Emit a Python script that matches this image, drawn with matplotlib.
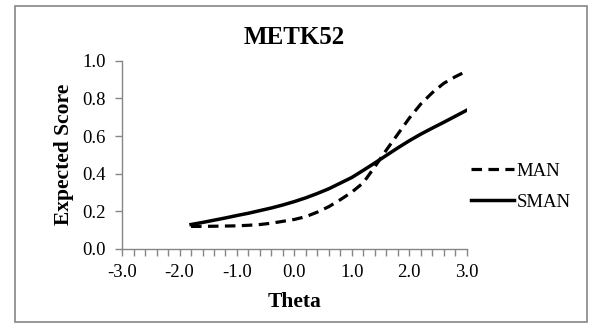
import numpy as np
import matplotlib
matplotlib.use("Agg")
import matplotlib.pyplot as plt
from matplotlib.patches import Rectangle
from matplotlib.ticker import MultipleLocator

# Values
theta = [-1.8, -1.6, -1.4, -1.2, -1.0, -0.8, -0.6, -0.4, -0.2, 0.0, 0.2, 0.4,
         0.6, 0.8, 1.0, 1.2, 1.4, 1.6, 1.8, 2.0, 2.2, 2.4, 2.6, 2.8, 3.0]
man = [0.120, 0.120, 0.121, 0.122, 0.123, 0.126, 0.130, 0.137, 0.147, 0.157,
       0.172, 0.196, 0.225, 0.262, 0.302, 0.352, 0.437, 0.525, 0.610, 0.695,
       0.770, 0.830, 0.880, 0.915, 0.945]
sman = [0.130, 0.141, 0.153, 0.165, 0.178, 0.190, 0.204, 0.218, 0.234, 0.252,
        0.272, 0.295, 0.320, 0.350, 0.380, 0.418, 0.457, 0.497, 0.537, 0.575,
        0.610, 0.642, 0.673, 0.705, 0.737]

x_ticks = [-3.0, -2.0, -1.0, 0.0, 1.0, 2.0, 3.0]
y_ticks = [0.0, 0.2, 0.4, 0.6, 0.8, 1.0]

plt.rcParams['font.family'] = ['Liberation Serif', 'DejaVu Serif']
grey = '#868686'

fig = plt.figure(figsize=(5.9, 3.24), dpi=100)
ax = fig.add_axes([0.207, 0.2315, 0.584, 0.581])

ax.plot(theta, man, color='black', linewidth=2.3, linestyle=(0, (3.3, 2.0)), label='MAN')
ax.plot(theta, sman, color='black', linewidth=2.5, label='SMAN')

ax.set_xlim(-3.0, 3.0)
ax.set_ylim(0.0, 1.0)
ax.set_xticks(x_ticks)
ax.set_xticklabels([f"{v:.1f}" for v in x_ticks])
ax.xaxis.set_minor_locator(MultipleLocator(0.2))
ax.set_yticks(y_ticks)
ax.set_yticklabels([f"{v:.1f}" for v in y_ticks])

for side in ['top', 'right']:
    ax.spines[side].set_visible(False)
for side in ['left', 'bottom']:
    ax.spines[side].set_color(grey)
    ax.spines[side].set_linewidth(1.0)

ax.tick_params(axis='both', which='both', direction='out', color=grey, width=1.0,
               length=5, labelsize=13.5)
ax.tick_params(axis='y', pad=7)
ax.tick_params(axis='x', pad=6)

ax.set_title("METK52", fontsize=18, fontweight='bold', pad=12)
ax.set_xlabel("Theta", fontsize=15.5, fontweight='bold', labelpad=8)
ax.set_ylabel("Expected Score", fontsize=15.5, fontweight='bold', labelpad=6)

ax.legend(loc='center left', bbox_to_anchor=(0.99, 0.33), frameon=False,
          fontsize=13.5, handlelength=2.3, handletextpad=0.15, labelspacing=0.75,
          borderaxespad=0)

# grey frame around the chart area
fig.patches.append(Rectangle((15 / 590, 2 / 324), 572 / 590, 316 / 324,
                             transform=fig.transFigure, fill=False,
                             edgecolor=grey, linewidth=1.2))

fig.savefig("out.png", dpi=100)
